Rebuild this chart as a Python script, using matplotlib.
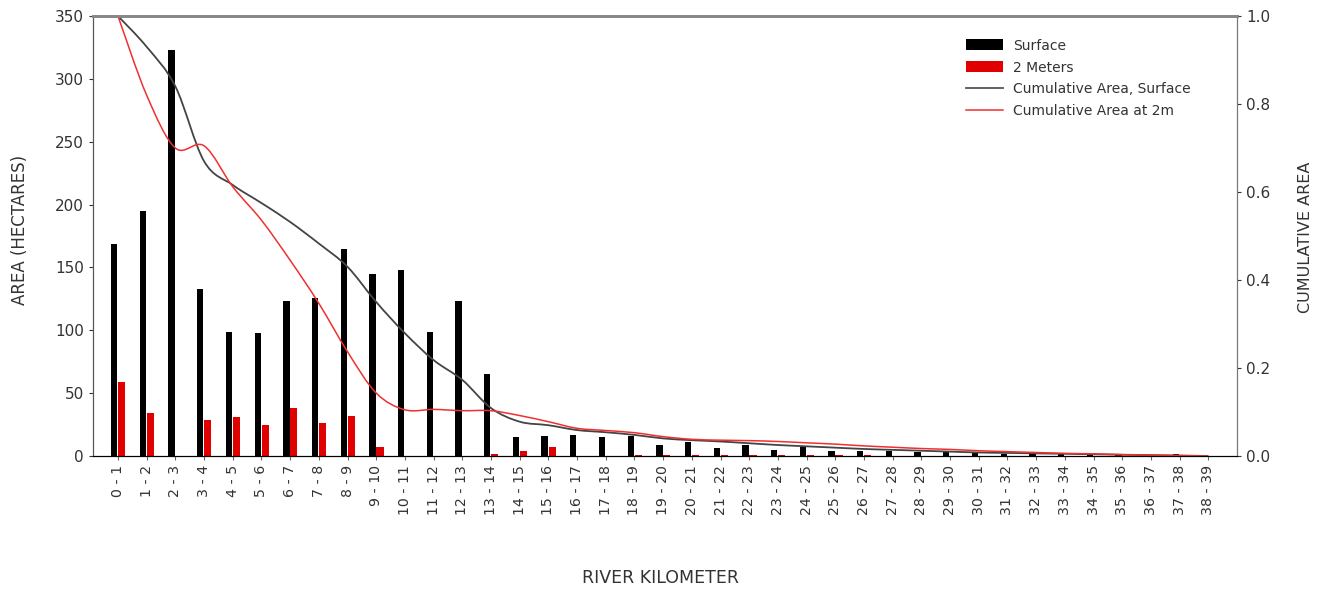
import numpy as np
import matplotlib
matplotlib.use("Agg")
import matplotlib.pyplot as plt
from matplotlib.path import Path
from matplotlib.patches import PathPatch
from matplotlib.lines import Line2D

# river kilometer bins
km_labels = [f"{i} - {i + 1}" for i in range(39)]

# area per km (hectares)
surface = [169, 195, 323, 133, 99, 98, 123, 126, 165, 145, 148, 99, 123, 65,
           15, 16, 17, 15, 16, 9, 11, 6, 9, 5, 7, 4, 4, 4, 3, 3, 3, 2, 2, 1.5,
           1, 1, 0.5, 2, 0]
two_m = [59, 34, 0, 29, 31, 25, 38, 26, 32, 7.5, 0, 0, 0, 1.5,
         4, 7, 0, 0, 1, 0.5, 0.5, 0.5, 0.5, 0.5, 0.5, 0.5, 0.5, 0.3, 0.3, 0.3,
         0.3, 0.2, 0.2, 0.2, 0.2, 0.1, 0.1, 0.1, 0]

# cumulative fraction (right axis)
cum_surface = [1.0, 0.93, 0.84, 0.67, 0.616, 0.575, 0.532, 0.483, 0.43, 0.35,
               0.279, 0.218, 0.173, 0.109, 0.078, 0.07, 0.059, 0.054, 0.048,
               0.040, 0.036, 0.033, 0.029, 0.025, 0.022, 0.019, 0.016, 0.014,
               0.012, 0.010, 0.008, 0.007, 0.006, 0.005, 0.004, 0.003, 0.002,
               0.001, 0.0]
cum_2m = [1.0, 0.82, 0.70, 0.705, 0.612, 0.536, 0.445, 0.347, 0.237, 0.143,
          0.105, 0.106, 0.103, 0.103, 0.092, 0.078, 0.063, 0.058, 0.053,
          0.044, 0.038, 0.036, 0.035, 0.033, 0.030, 0.027, 0.023, 0.020,
          0.017, 0.015, 0.012, 0.010, 0.008, 0.006, 0.005, 0.003, 0.002,
          0.001, 0.0]


def smooth_path(xs, ys):
    # catmull-rom style bezier through the points
    p = np.column_stack([xs, ys]).astype(float)
    verts = [p[0]]
    codes = [Path.MOVETO]
    n = len(p)
    for i in range(n - 1):
        p0 = p[i - 1] if i > 0 else p[i]
        p3 = p[i + 2] if i + 2 < n else p[i + 1]
        c1 = p[i] + (p[i + 1] - p0) / 6
        c2 = p[i + 1] - (p3 - p[i]) / 6
        verts += [c1, c2, p[i + 1]]
        codes += [Path.CURVE4] * 3
    return Path(verts, codes)


plt.rcParams['font.family'] = ['DejaVu Sans']
txt = '#333333'

fig = plt.figure(figsize=(13.23, 5.93), dpi=100)
ax1 = fig.add_axes([0.0703, 0.231, 0.8647, 0.742])
ax2 = ax1.twinx()

x = np.arange(len(km_labels))
b1 = ax1.bar(x - 0.13, surface, width=0.22, color='black', zorder=2)
b2 = ax1.bar(x + 0.13, two_m, width=0.25, color='#e00000', zorder=2)

ax2.add_patch(PathPatch(smooth_path(x, cum_surface), fill=False,
                        edgecolor='#444444', lw=1.3))
ax2.add_patch(PathPatch(smooth_path(x, cum_2m), fill=False,
                        edgecolor='#f03030', lw=1.1))
l1 = Line2D([], [], color='#555555', lw=1.3)
l2 = Line2D([], [], color='#f03030', lw=1.1)

ax1.set_xlim(-0.87, 39.0)
ax1.set_ylim(0, 350)
ax2.set_ylim(0, 1.0)
ax1.set_yticks(range(0, 351, 50))
ax2.set_yticks(np.arange(0, 1.01, 0.2))
ax2.set_yticklabels([f"{v:.1f}" for v in np.arange(0, 1.01, 0.2)])
ax1.set_xticks(x)
ax1.set_xticklabels(km_labels, rotation=90, fontsize=10.2, color=txt)

ax1.tick_params(axis='y', labelsize=11, colors=txt, length=3)
ax2.tick_params(axis='y', labelsize=11, colors=txt, length=3)
ax1.tick_params(axis='x', length=3, color='#666666')

for ax in (ax1, ax2):
    ax.spines['top'].set_color('#888888')
    ax.spines['top'].set_linewidth(2)
    ax.spines['right'].set_color('#777777')
    ax.spines['left'].set_color('#555555')
    ax.spines['bottom'].set_color('black')

fig.text(0.0151, 0.613, 'AREA (HECTARES)', rotation=90, fontsize=12,
         color=txt, ha='center', va='center')
fig.text(0.499, 0.025, 'RIVER KILOMETER', fontsize=12.5, color=txt,
         ha='center', va='center')
fig.text(0.9864, 0.6, 'CUMULATIVE AREA', rotation=90, fontsize=11.5,
         color=txt, ha='center', va='center')

ax1.legend([b1, b2, l1, l2],
           ['Surface', '2 Meters', 'Cumulative Area, Surface', 'Cumulative Area at 2m'],
           loc='upper left', bbox_to_anchor=(0.752, 0.977), frameon=False,
           fontsize=10, labelcolor=txt, handlelength=2.7, handleheight=0.86,
           labelspacing=0.57, handletextpad=0.7)

fig.savefig('out.png', dpi=100)
